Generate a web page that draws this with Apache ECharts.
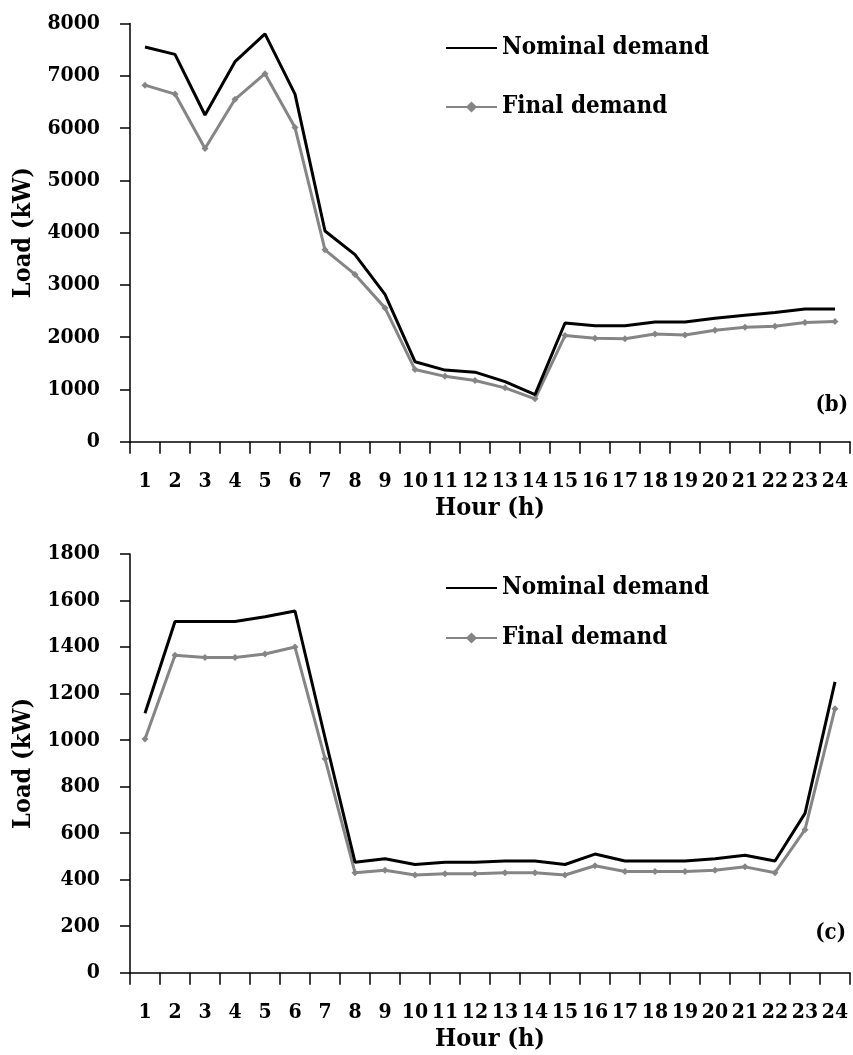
<!DOCTYPE html>
<html>
<head>
<meta charset="utf-8">
<script src="https://cdn.jsdelivr.net/npm/echarts@6/dist/echarts.min.js"></script>
<style>
  body { margin: 0; background: #fff; }
  #chart { width: 853px; height: 1055px; }
</style>
</head>
<body>
<div id="chart"></div>
<script>
  // hours 1..24
  var hours = ['1','2','3','4','5','6','7','8','9','10','11','12','13','14','15','16','17','18','19','20','21','22','23','24'];

  // (b)
  var nominalB = [7550,7410,6250,7270,7800,6650,4030,3580,2820,1530,1370,1330,1150,900,2270,2220,2220,2290,2290,2360,2420,2470,2540,2540];
  var finalB   = [6820,6650,5610,6550,7040,6010,3670,3200,2560,1380,1250,1170,1030,820,2030,1980,1970,2060,2040,2130,2190,2210,2280,2300];

  // (c)
  var nominalC = [1115,1510,1510,1510,1530,1555,1010,475,490,465,475,475,480,480,465,510,480,480,480,490,505,480,685,1250];
  var finalC   = [1005,1365,1355,1355,1370,1400,920,430,440,420,425,425,430,430,420,460,435,435,435,440,455,430,615,1135];

  var seriesNames = ['Nominal demand', 'Final demand'];
  var panelLabels = ['(b)', '(c)'];

  var serif = "'DejaVu Serif Condensed', 'DejaVu Serif', serif";
  var black = '#000';
  var grey = '#858585';

  function xAxis(idx) {
    return {
      type: 'category',
      gridIndex: idx,
      data: hours,
      name: 'Hour (h)',
      nameLocation: 'middle',
      nameGap: 54,
      nameTextStyle: { fontFamily: serif, fontWeight: 'bold', fontSize: 25, color: black },
      axisLine: { lineStyle: { color: black, width: 1.5 } },
      axisTick: { show: true, length: 12, lineStyle: { color: black, width: 1.5 } },
      axisLabel: { margin: 29, fontFamily: serif, fontWeight: 'bold', fontSize: 21, color: black, interval: 0 },
      splitLine: { show: false }
    };
  }

  function yAxis(idx, max, step) {
    return {
      type: 'value',
      gridIndex: idx,
      min: 0,
      max: max,
      interval: step,
      name: 'Load (kW)',
      nameLocation: 'middle',
      nameGap: 94,
      nameTextStyle: { fontFamily: serif, fontWeight: 'bold', fontSize: 25, color: black },
      axisLine: { show: true, lineStyle: { color: black, width: 1.5 } },
      axisTick: { show: true, length: 10, lineStyle: { color: black, width: 1.5 } },
      axisLabel: {
        margin: 30, fontFamily: serif, fontWeight: 'bold', fontSize: 21, color: black,
        formatter: function (v) { return String(v); }
      },
      splitLine: { show: false }
    };
  }

  function nomSeries(idx, data) {
    return {
      name: seriesNames[0],
      type: 'line',
      xAxisIndex: idx,
      yAxisIndex: idx,
      data: data,
      symbol: 'none',
      lineStyle: { color: black, width: 3 },
      itemStyle: { color: black },
      z: 3
    };
  }

  function finSeries(idx, data) {
    return {
      name: seriesNames[1],
      type: 'line',
      xAxisIndex: idx,
      yAxisIndex: idx,
      data: data,
      symbol: 'diamond',
      symbolSize: 7,
      lineStyle: { color: grey, width: 3 },
      itemStyle: { color: grey },
      z: 2
    };
  }

  var legendText = { fontFamily: serif, fontWeight: 'bold', fontSize: 24, color: black, lineHeight: 30 };
  // no marker on the nominal line in the legend
  var legendItems = [
    { name: seriesNames[0], itemStyle: { opacity: 0 } },
    { name: seriesNames[1] }
  ];

  var chart = echarts.init(document.getElementById('chart'));
  var option = {
    animation: false,
    backgroundColor: '#fff',
    title: [
      { text: panelLabels[0], right: 0, top: 389, textStyle: { fontFamily: serif, fontWeight: 'bold', fontSize: 22, color: black } },
      { text: panelLabels[1], right: 2, top: 917, textStyle: { fontFamily: serif, fontWeight: 'bold', fontSize: 22, color: black } }
    ],
    legend: [
      { data: legendItems, orient: 'vertical', left: 440, top: 28, itemWidth: 51, itemHeight: 14, itemGap: 29, textStyle: legendText, selectedMode: false },
      { data: legendItems, orient: 'vertical', left: 440, top: 568, itemWidth: 51, itemHeight: 14, itemGap: 20, textStyle: legendText, selectedMode: false }
    ],
    grid: [
      { left: 130, top: 23.5, width: 720, height: 418.2 },
      { left: 130, top: 554, width: 720, height: 418.7 }
    ],
    xAxis: [xAxis(0), xAxis(1)],
    yAxis: [yAxis(0, 8000, 1000), yAxis(1, 1800, 200)],
    series: [
      nomSeries(0, nominalB), finSeries(0, finalB),
      nomSeries(1, nominalC), finSeries(1, finalC)
    ]
  };
  chart.setOption(option);
</script>
</body>
</html>
